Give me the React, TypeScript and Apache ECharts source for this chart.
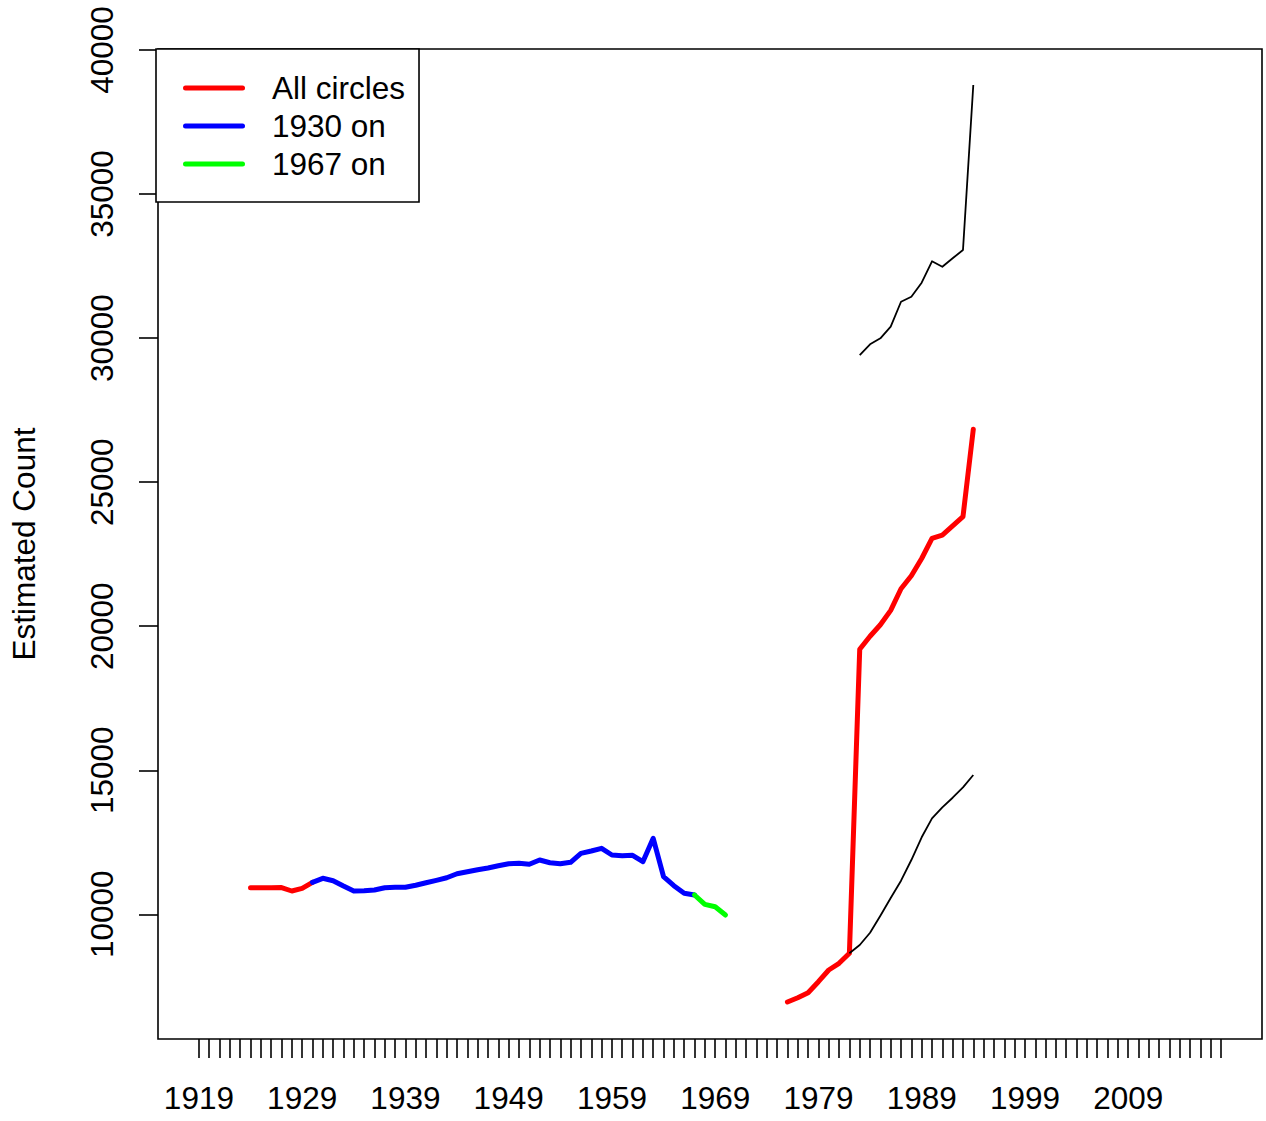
import React, { useEffect, useRef } from "react";
import * as echarts from "echarts";

const redEarlyYears = [1924, 1925, 1926, 1927, 1928, 1929, 1930];
const redEarlyValues = [10923, 10923, 10923, 10930, 10809, 10902, 11111];

const blueYears = [
  1930, 1931, 1932, 1933, 1934, 1935, 1936, 1937, 1938, 1939, 1940, 1941, 1942,
  1943, 1944, 1945, 1946, 1947, 1948, 1949, 1950, 1951, 1952, 1953, 1954, 1955,
  1956, 1957, 1958, 1959, 1960, 1961, 1962, 1963, 1964, 1965, 1966, 1967,
];
const blueValues = [
  11111, 11250, 11166, 10982, 10809, 10819, 10843, 10923, 10937, 10937, 11007,
  11097, 11180, 11270, 11409, 11479, 11548, 11607, 11687, 11756, 11770, 11736,
  11885, 11791, 11756, 11805, 12117, 12197, 12291, 12058, 12034, 12048, 11826,
  12638, 11305, 10993, 10729, 10670,
];

const greenYears = [1967, 1968, 1969, 1970];
const greenValues = [10670, 10347, 10264, 9976];

const redLateYears = [
  1976, 1977, 1978, 1979, 1980, 1981, 1982, 1983, 1984, 1985, 1986, 1987, 1988,
  1989, 1990, 1991, 1992, 1993, 1994,
];
const redLateValues = [
  6956, 7105, 7279, 7661, 8067, 8299, 8646, 19198, 19650, 20050, 20550, 21300,
  21750, 22350, 23051, 23165, 23480, 23801, 26834,
];

const upperYears = [1983, 1984, 1985, 1986, 1987, 1988, 1989, 1990, 1991, 1992, 1993, 1994];
const upperValues = [29413, 29785, 29993, 30396, 31263, 31437, 31923, 32666, 32478, 32770, 33058, 38785];

const lowerYears = [1982, 1983, 1984, 1985, 1986, 1987, 1988, 1989, 1990, 1991, 1992, 1993, 1994];
const lowerValues = [8646, 8934, 9361, 9951, 10566, 11166, 11885, 12673, 13332, 13714, 14047, 14408, 14835];

const xLabelYears = [1919, 1929, 1939, 1949, 1959, 1969, 1979, 1989, 1999, 2009];
const xTickFirst = 1919;
const xTickLast = 2018;
const yTickValues = [10000, 15000, 20000, 25000, 30000, 35000, 40000];

const legendNames = ["All circles", "1930 on", "1967 on"];

const FONT = "'Liberation Sans', Arial, Helvetica, sans-serif";
const FS = 31.5;
const LEGEND_ICON = "path://M2.5,0 L59.5,0 A2.5,2.5 0 0 1 59.5,5 L2.5,5 A2.5,2.5 0 0 1 2.5,0 Z";

const pairs = (xs: number[], ys: number[]) => xs.map((x, i) => [x, ys[i]]);

export default function App() {
  const ref = useRef<HTMLDivElement>(null);

  useEffect(() => {
    if (!ref.current) return;
    const chart = echarts.init(ref.current, undefined, { renderer: "svg" });
    const xTicks: number[] = [];
    for (let y = xTickFirst; y <= xTickLast; y++) xTicks.push(y);

    const thick = (name: string, color: string, xs: number[], ys: number[]) => ({
      name,
      type: "line",
      data: pairs(xs, ys),
      symbol: "none",
      showSymbol: false,
      color,
      itemStyle: { color },
      lineStyle: { color, width: 5, cap: "round", join: "round" },
      z: 3,
    });
    const thin = (name: string, xs: number[], ys: number[]) => ({
      name,
      type: "line",
      data: pairs(xs, ys),
      symbol: "none",
      showSymbol: false,
      color: "#000",
      lineStyle: { color: "#000", width: 1.8, join: "round" },
      z: 4,
    });

    chart.setOption({
      animation: false,
      backgroundColor: "#fff",
      textStyle: { fontFamily: FONT },
      grid: {
        left: 156,
        right: 4,
        top: 49,
        bottom: 82,
        show: true,
        borderColor: "#000",
        borderWidth: 1.6,
        containLabel: false,
      },
      legend: {
        data: legendNames.map((n) => ({ name: n, icon: LEGEND_ICON })),
        orient: "vertical",
        left: 156,
        top: 49,
        itemWidth: 62,
        itemHeight: 5,
        itemGap: 0,
        padding: [20, 14, 19, 27],
        borderColor: "#000",
        borderWidth: 1.6,
        borderRadius: 0,
        backgroundColor: "#fff",
        selectedMode: false,
        textStyle: {
          fontFamily: FONT,
          fontSize: FS,
          color: "#000",
          lineHeight: 38,
          padding: [0, 0, 0, 22],
        },
        z: 10,
      },
      xAxis: {
        type: "value",
        min: 1915.04,
        max: 2021.96,
        axisLine: { show: false },
        splitLine: { show: false },
        axisTick: {
          show: true,
          customValues: xTicks,
          length: 19,
          lineStyle: { color: "#000", width: 1.6 },
        },
        axisLabel: {
          customValues: xLabelYears,
          fontSize: FS,
          color: "#000",
          fontFamily: FONT,
          margin: 43,
          formatter: (v: number) => String(v),
        },
      },
      yAxis: {
        type: "value",
        min: 5672,
        max: 40035,
        name: "Estimated Count",
        nameLocation: "middle",
        nameGap: 118,
        nameTextStyle: { fontSize: FS, color: "#000", fontFamily: FONT },
        axisLine: { show: false },
        splitLine: { show: false },
        axisTick: {
          show: true,
          customValues: yTickValues,
          length: 19,
          lineStyle: { color: "#000", width: 1.6 },
        },
        axisLabel: {
          customValues: yTickValues,
          rotate: 90,
          fontSize: FS,
          color: "#000",
          fontFamily: FONT,
          margin: 40,
          formatter: (v: number) => String(v),
        },
      },
      series: [
        thick("All circles", "#ff0000", redEarlyYears, redEarlyValues),
        thick("All circles", "#ff0000", redLateYears, redLateValues),
        thick("1930 on", "#0000ff", blueYears, blueValues),
        thick("1967 on", "#00ff00", greenYears, greenValues),
        thin("upper", upperYears, upperValues),
        thin("lower", lowerYears, lowerValues),
      ],
    });

    return () => chart.dispose();
  }, []);

  return (
    <div
      ref={ref}
      style={{ position: "fixed", left: 0, top: 0, width: 1266, height: 1121, background: "#fff" }}
    />
  );
}
